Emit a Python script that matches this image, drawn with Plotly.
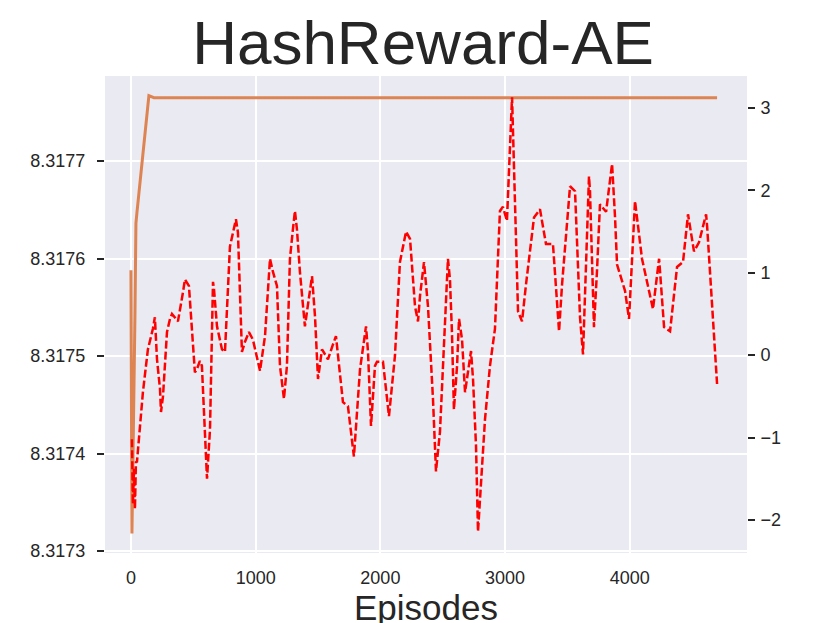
import plotly.graph_objects as go

# left axis: AE loss (orange), right axis: reward (red dashed)
loss_episodes = [0, 8, 32, 40, 48, 144, 184, 4700]
loss_values = [8.317588, 8.317318, 8.317540, 8.317636, 8.317647,
               8.317767, 8.317765, 8.317765]

reward_episodes = [
    8, 16, 24, 32, 40, 48, 96, 136, 176, 192, 209, 233, 241, 257, 289, 313,
    329, 377, 417, 433, 465, 513, 529, 553, 569, 593, 610, 634, 658, 666,
    690, 730, 754, 794, 842, 858, 890, 914, 946, 978, 1035, 1075, 1115, 1139,
    1171, 1195, 1227, 1251, 1275, 1299, 1315, 1331, 1355, 1395, 1412, 1452,
    1476, 1500, 1532, 1580, 1620, 1644, 1700, 1740, 1788, 1837, 1885, 1901,
    1925, 1957, 1973, 2021, 2069, 2117, 2157, 2206, 2238, 2278, 2302, 2318,
    2350, 2382, 2422, 2446, 2478, 2510, 2542, 2558, 2574, 2590, 2615, 2631,
    2655, 2679, 2719, 2727, 2743, 2767, 2783, 2799, 2839, 2879, 2919, 2959,
    2983, 3015, 3056, 3104, 3136, 3168, 3232, 3280, 3328, 3384, 3417, 3433,
    3457, 3521, 3561, 3585, 3601, 3625, 3641, 3665, 3673, 3681, 3705, 3713,
    3737, 3761, 3810, 3858, 3882, 3898, 3962, 3994, 4042, 4066, 4098, 4186,
    4235, 4243, 4275, 4323, 4379, 4427, 4467, 4515, 4555, 4612, 4620, 4700,
]
reward_values = [
    -1.02, -1.81, -1.38, -1.87, -1.29, -1.30, -0.45, 0.07, 0.32, 0.46, -0.05,
    -0.41, -0.69, -0.50, 0.28, 0.44, 0.50, 0.41, 0.76, 0.92, 0.84, -0.21,
    -0.17, -0.07, -0.13, -0.98, -1.50, -0.90, 0.89, 0.80, 0.35, 0.07, 0.04,
    1.32, 1.65, 1.49, 0.04, 0.16, 0.28, 0.19, -0.19, 0.23, 1.17, 1.01, 0.84,
    -0.13, -0.53, -0.13, 1.17, 1.53, 1.75, 1.53, 1.01, 0.35, 0.52, 0.96,
    0.47, -0.29, 0.07, -0.05, 0.13, 0.23, -0.57, -0.62, -1.23, -0.17, 0.35,
    0.04, -0.86, -0.13, -0.08, -0.08, -0.74, -0.01, 1.13, 1.50, 1.41, 0.59,
    0.41, 0.72, 1.13, 0.59, -0.53, -1.41, -0.93, 0.19, 1.17, 0.92, 0.28,
    -0.66, -0.13, 0.44, 0.19, -0.45, -0.05, 0.05, -0.29, -1.10, -2.14, -1.78,
    -0.78, -0.13, 0.32, 1.75, 1.80, 1.63, 3.13, 0.53, 0.41, 0.86, 1.67, 1.77,
    1.35, 1.35, 0.66, 0.29, 0.86, 2.05, 1.99, 1.07, 0.46, 0.01, 0.66, 1.80,
    2.17, 1.99, 0.78, 0.34, 1.02, 1.83, 1.74, 2.32, 1.67, 1.10, 0.78, 0.44,
    1.87, 1.57, 1.17, 0.56, 1.17, 1.01, 0.34, 0.29, 1.07, 1.13, 1.71, 1.26,
    1.37, 1.71, 1.57, -0.35,
]

left_ticks = [8.3173, 8.3174, 8.3175, 8.3176, 8.3177]
right_ticks = [-2, -1, 0, 1, 2, 3]
x_ticks = [0, 1000, 2000, 3000, 4000]

FONT = "Liberation Sans, Arial, sans-serif"
TEXT = "#262626"

fig = go.Figure()
fig.add_trace(go.Scatter(
    x=loss_episodes, y=loss_values, mode="lines", yaxis="y",
    line=dict(color="#dd8452", width=3), showlegend=False))
fig.add_trace(go.Scatter(
    x=reward_episodes, y=reward_values, mode="lines", yaxis="y2",
    line=dict(color="#ff0000", width=2.5, dash="8px,3px"), showlegend=False))

# the page body adds an 8px offset, so margins are shifted to compensate
fig.update_layout(
    width=830, height=623,
    margin=dict(l=97, r=91, t=68, b=78),
    paper_bgcolor="white", plot_bgcolor="#eaeaf2",
    font=dict(family=FONT, color=TEXT, size=18),
    title=dict(text="HashReward-AE", x=0.5, xanchor="center",
               y=1 - 34 / 623, yanchor="middle", automargin=False,
               font=dict(size=62, family=FONT, color=TEXT)),
    xaxis=dict(range=[-208, 4940], tickvals=x_ticks, showgrid=True,
               gridcolor="white", gridwidth=1.5, zeroline=False,
               showline=False, ticks="", ticklabelstandoff=12,
               automargin=False, tickfont=dict(size=18),
               title=dict(text="Episodes", font=dict(size=35), standoff=0)),
    yaxis=dict(range=[8.317298, 8.3177872], tickvals=left_ticks,
               tickformat=".4f", showgrid=True, gridcolor="white",
               gridwidth=1.5, zeroline=False, showline=False,
               ticks="outside", ticklen=7, tickwidth=1.5, tickcolor=TEXT,
               ticklabelstandoff=8, automargin=False,
               tickfont=dict(size=18)),
    yaxis2=dict(range=[-2.401, 3.388], tickvals=right_ticks,
                overlaying="y", side="right", showgrid=False,
                zeroline=False, showline=False, ticks="outside", ticklen=7,
                tickwidth=1.5, tickcolor=TEXT, ticklabelstandoff=2,
                automargin=False, tickfont=dict(size=18)),
)

fig.write_html("out.html")
